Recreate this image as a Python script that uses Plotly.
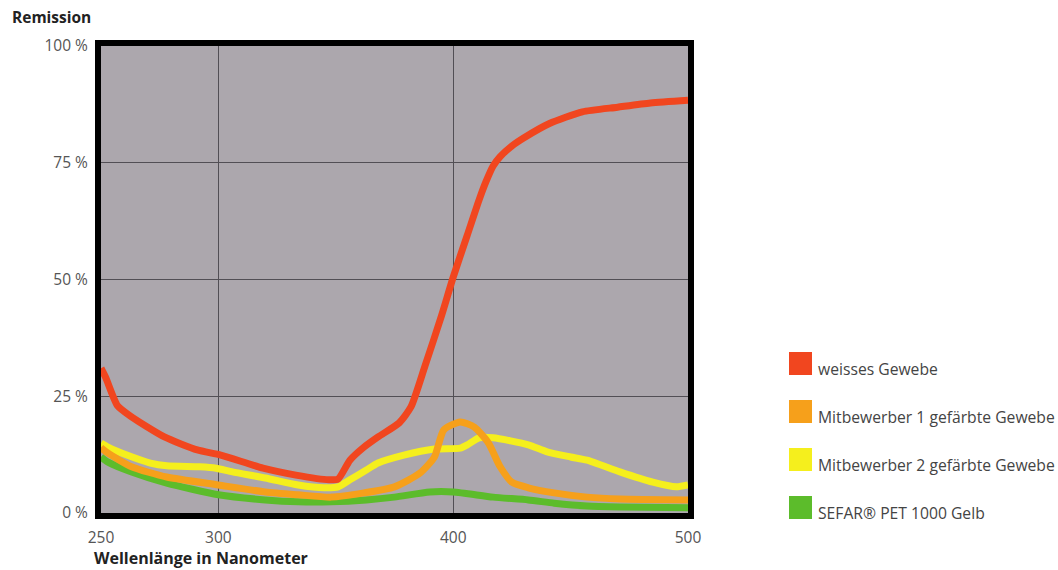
import plotly.graph_objects as go

# ---- data (wavelength in nm, remission in %) ----
wl_red = [250, 252, 257, 263, 277, 291, 301, 319, 333, 347, 351, 356, 362, 368, 377, 382,
          388, 395, 400, 406, 411, 414, 417, 420, 425, 430, 441, 455, 470, 484, 500]
red = [31, 29, 23, 20.6, 16.3, 13.5, 12.4, 9.6, 8.1, 7.1, 7.3, 11.3, 14.1, 16.3, 19.3, 22.7,
       31.5, 42.2, 50.5, 59.5, 67.0, 71.0, 74.3, 76.3, 78.6, 80.3, 83.4, 85.9, 86.9, 87.8, 88.4]

wl_orange = [250, 253, 263, 278, 300, 320, 334, 348, 362, 375, 386, 392, 396, 403, 409, 415,
             420, 425, 432, 443, 457, 471, 500]
orange = [14, 12.8, 9.9, 7.7, 6.0, 4.5, 3.9, 3.4, 4.3, 5.6, 8.6, 12.0, 17.8, 19.5, 18.4, 15.0,
          9.9, 6.6, 5.4, 4.3, 3.4, 3.0, 2.8]

wl_yellow = [250, 253, 261, 271, 278, 292, 299, 306, 320, 334, 345, 351, 356, 363, 368, 379,
             392, 403, 406, 411, 417, 432, 440, 450, 457, 471, 485, 495, 500]
yellow = [15, 14.1, 12.4, 10.7, 10.1, 9.9, 9.6, 8.8, 7.5, 6.0, 5.4, 5.6, 7.1, 9.2, 10.7, 12.4,
          13.7, 13.9, 14.6, 16.1, 16.1, 14.6, 13.1, 12.0, 11.3, 8.8, 6.6, 5.6, 6.0]

wl_green = [250, 253, 263, 278, 300, 320, 334, 348, 363, 375, 390, 400, 417, 432, 443, 457,
            471, 500]
green = [12, 10.9, 8.8, 6.4, 3.9, 2.8, 2.4, 2.4, 2.8, 3.4, 4.5, 4.5, 3.4, 2.8, 2.1, 1.5,
         1.3, 1.1]

series_names = ["weisses Gewebe", "Mitbewerber 1 gefärbte Gewebe",
                "Mitbewerber 2 gefärbte Gewebe", "SEFAR® PET 1000 Gelb"]
series_colors = ["#f1461f", "#f6a01b", "#f5ef1d", "#5cbc2b"]

x_tickvals = [250, 300, 400, 500]
x_ticktext = ["250", "300", "400", "500"]
y_tickvals = [0, 25, 50, 75, 100]
y_ticktext = ["0 %", "25 %", "50 %", "75 %", "100 %"]

# ---- figure ----
fig = go.Figure()
# drawing order: green, yellow, orange, red (red on top)
for wl, vals, idx in [(wl_green, green, 3), (wl_yellow, yellow, 2),
                      (wl_orange, orange, 1), (wl_red, red, 0)]:
    fig.add_trace(go.Scatter(
        x=wl, y=vals, mode="lines", name=series_names[idx],
        line=dict(color=series_colors[idx], width=7, shape="spline", smoothing=0.6),
        showlegend=False, hoverinfo="x+y+name"))

L, R, T, B = 101, 370, 46, 57
W, H = 1058, 570
pw, ph = W - L - R, H - T - B

def px_x(px):
    return (px - L) / pw

def px_y(py):
    return (H - B - py) / ph

axis_common = dict(showgrid=True, gridcolor="#524f55", gridwidth=1, zeroline=False,
                   showline=True, linewidth=6, linecolor="black", mirror=True,
                   ticks="", tickfont=dict(size=15.5, color="#555555", family="Open Sans"),
                   fixedrange=True)

fig.update_layout(
    width=W, height=H,
    margin=dict(l=L, r=R, t=T, b=B, pad=0),
    paper_bgcolor="white", plot_bgcolor="#aca7ad",
    font=dict(family="Open Sans", color="#444444"),
    showlegend=False,
    xaxis=dict(range=[250, 500], tickvals=x_tickvals, ticktext=x_ticktext,
               ticklabelstandoff=5, **axis_common),
    yaxis=dict(range=[0, 100], tickvals=y_tickvals, ticktext=y_ticktext,
               ticklabelstandoff=4, **axis_common),
)

# titles
fig.add_annotation(text="<b>Remission</b>", xref="paper", yref="paper",
                   x=px_x(10), y=px_y(17), xanchor="left", yanchor="middle",
                   showarrow=False, font=dict(size=15.5, color="#222222", family="Open Sans"))
fig.add_annotation(text="<b>Wellenlänge in Nanometer</b>", xref="paper", yref="paper",
                   x=px_x(92), y=px_y(558), xanchor="left", yanchor="middle",
                   showarrow=False, font=dict(size=16, color="#222222", family="Open Sans"))

# legend (squares + labels)
for i, (name, col) in enumerate(zip(series_names, series_colors)):
    top = 352 + 48 * i
    fig.add_shape(type="rect", xref="paper", yref="paper",
                  x0=px_x(789), x1=px_x(812), y0=px_y(top), y1=px_y(top + 23),
                  fillcolor=col, line=dict(width=0))
    fig.add_annotation(text=name, xref="paper", yref="paper",
                       x=px_x(816), y=px_y(top + 17), xanchor="left", yanchor="middle",
                       showarrow=False, font=dict(size=15.7, color="#444444", family="Open Sans"))

fig.write_html("out.html", config={"displayModeBar": False},
               post_script="document.body.style.margin='0';document.body.style.overflow='hidden';")
